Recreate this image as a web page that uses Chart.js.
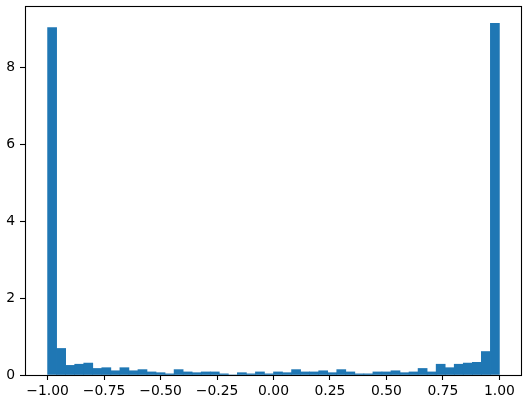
<!DOCTYPE html>
<html>
<head>
<meta charset="utf-8">
<script src="https://cdn.jsdelivr.net/npm/chart.js@4"></script>
<style>
  html, body { margin: 0; padding: 0; background: #fff; }
  #wrap { width: 528px; height: 405px; }
</style>
</head>
<body>
<div id="wrap"><canvas id="c" width="528" height="405"></canvas></div>
<script>
// Bin centers (50 bins from -1 to 1, width 0.04)
const binCenters = [
  -0.98, -0.94, -0.90, -0.86, -0.82, -0.78, -0.74, -0.70, -0.66, -0.62,
  -0.58, -0.54, -0.50, -0.46, -0.42, -0.38, -0.34, -0.30, -0.26, -0.22,
  -0.18, -0.14, -0.10, -0.06, -0.02,  0.02,  0.06,  0.10,  0.14,  0.18,
   0.22,  0.26,  0.30,  0.34,  0.38,  0.42,  0.46,  0.50,  0.54,  0.58,
   0.62,  0.66,  0.70,  0.74,  0.78,  0.82,  0.86,  0.90,  0.94,  0.98
];
// Density values
const densities = [
  9.03, 0.69, 0.25, 0.28, 0.31, 0.17, 0.19, 0.11, 0.19, 0.11,
  0.14, 0.08, 0.06, 0.03, 0.14, 0.08, 0.06, 0.08, 0.08, 0.03,
  0.00, 0.06, 0.03, 0.08, 0.03, 0.08, 0.06, 0.14, 0.08, 0.08,
  0.11, 0.06, 0.14, 0.08, 0.03, 0.03, 0.08, 0.08, 0.11, 0.06,
  0.08, 0.17, 0.08, 0.28, 0.19, 0.28, 0.31, 0.33, 0.61, 9.14
];
const xTicks = [-1.00, -0.75, -0.50, -0.25, 0.00, 0.25, 0.50, 0.75, 1.00];
const yTicks = [0, 2, 4, 6, 8];

const frame = {
  id: 'frame',
  afterDatasetsDraw(chart) {
    const a = chart.chartArea, ctx = chart.ctx;
    ctx.save();
    ctx.strokeStyle = '#000';
    ctx.lineWidth = 1.1;
    ctx.strokeRect(Math.round(a.left) + 0.5, Math.round(a.top) + 0.5,
                   Math.round(a.right - a.left) - 1, Math.round(a.bottom - a.top));
    ctx.restore();
  }
};

const font = { family: 'DejaVu Sans', size: 13.9 };
const fmt = v => (v < 0 ? '\u2212' : '') + Math.abs(v).toFixed(2);
const noPad = s => { s.paddingTop = 0; s.paddingBottom = 0; s.paddingLeft = 0; s.paddingRight = 0; };

new Chart(document.getElementById('c'), {
  type: 'bar',
  data: {
    datasets: [{
      data: binCenters.map((x, i) => ({ x: x, y: densities[i] })),
      backgroundColor: '#1f77b4',
      borderWidth: 0,
      barPercentage: 1.0,
      categoryPercentage: 1.0,
      grouped: false
    }]
  },
  options: {
    responsive: false,
    animation: false,
    devicePixelRatio: 1,
    layout: { padding: { left: 0, right: 6, top: 6, bottom: 0 } },
    plugins: { legend: { display: false }, tooltip: { enabled: false } },
    scales: {
      x: {
        type: 'linear',
        min: -1.1, max: 1.1,
        offset: false,
        afterBuildTicks: s => { s.ticks = xTicks.map(v => ({ value: v })); },
        afterFit: s => { s.height = 30; noPad(s); },
        ticks: { color: '#000', font: font, padding: 3, maxRotation: 0, autoSkip: false,
                 callback: v => fmt(v) },
        grid: { offset: false, drawOnChartArea: false, drawTicks: true, tickLength: 5, tickColor: '#000', tickWidth: 1.1 },
        border: { display: false }
      },
      y: {
        min: 0, max: 9.59,
        afterBuildTicks: s => { s.ticks = yTicks.map(v => ({ value: v })); },
        afterFit: s => { s.width = 25; noPad(s); },
        ticks: { color: '#000', font: font, padding: 5, autoSkip: false,
                 callback: v => String(v) },
        grid: { offset: false, drawOnChartArea: false, drawTicks: true, tickLength: 5, tickColor: '#000', tickWidth: 1.1 },
        border: { display: false }
      }
    }
  },
  plugins: [frame]
});
</script>
</body>
</html>
